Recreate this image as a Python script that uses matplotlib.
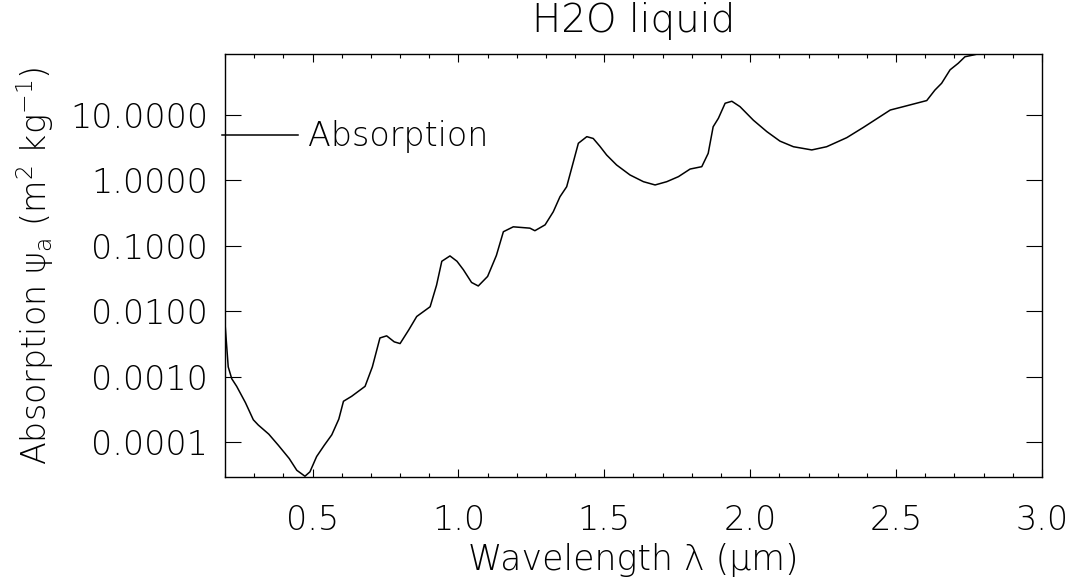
import numpy as np
import matplotlib
matplotlib.use("Agg")
import matplotlib.pyplot as plt
from matplotlib.ticker import FixedLocator, MultipleLocator, NullLocator, FormatStrFormatter

# wavelength (um) and absorption (m^2 kg^-1)
wavelength = [0.200, 0.211, 0.223, 0.240, 0.270, 0.297, 0.314, 0.350, 0.383, 0.420,
              0.446, 0.474, 0.491, 0.514, 0.540, 0.566, 0.590, 0.606, 0.634, 0.680,
              0.705, 0.731, 0.754, 0.780, 0.800, 0.830, 0.857, 0.903, 0.925, 0.943,
              0.971, 0.995, 1.017, 1.045, 1.068, 1.100, 1.130, 1.154, 1.188, 1.245,
              1.262, 1.297, 1.325, 1.348, 1.371, 1.395, 1.411, 1.440, 1.462, 1.485,
              1.508, 1.542, 1.588, 1.634, 1.674, 1.714, 1.754, 1.794, 1.834, 1.856,
              1.873, 1.891, 1.914, 1.937, 1.965, 2.011, 2.057, 2.102, 2.148, 2.211,
              2.262, 2.331, 2.388, 2.480, 2.525, 2.605, 2.633, 2.656, 2.685, 2.713,
              2.736, 2.765, 2.800, 2.900, 3.000]
absorption = [6.5e-3, 1.41e-3, 9.3e-4, 7.1e-4, 4.0e-4, 2.19e-4, 1.82e-4, 1.32e-4, 8.9e-5, 5.6e-5,
              3.7e-5, 3.0e-5, 3.5e-5, 6.0e-5, 8.9e-5, 1.29e-4, 2.24e-4, 4.2e-4, 5.0e-4, 7.1e-4,
              1.41e-3, 3.9e-3, 4.2e-3, 3.4e-3, 3.2e-3, 5.2e-3, 8.3e-3, 1.17e-2, 2.5e-2, 5.8e-2,
              7.0e-2, 5.8e-2, 4.3e-2, 2.75e-2, 2.43e-2, 3.4e-2, 7.1e-2, 0.164, 0.195, 0.186,
              0.170, 0.209, 0.331, 0.562, 0.80, 2.0, 3.69, 4.66, 4.37, 3.31,
              2.44, 1.72, 1.21, 0.955, 0.851, 0.955, 1.14, 1.49, 1.62, 2.59,
              6.6, 8.9, 15.1, 16.2, 13.4, 8.3, 5.56, 3.98, 3.27, 2.92,
              3.27, 4.50, 6.46, 11.9, 13.4, 16.6, 24.0, 30.5, 49.0, 61.7,
              77.6, 82.6, 90.0, 110.0, 120.0]

y_ticks = [1e-4, 1e-3, 1e-2, 1e-1, 1.0, 10.0]
x_ticks = [0.5, 1.0, 1.5, 2.0, 2.5, 3.0]

plt.rcParams["font.family"] = ["DejaVu Sans"]
plt.rcParams["font.weight"] = "light"
plt.rcParams["axes.titleweight"] = "light"
plt.rcParams["axes.labelweight"] = "light"
plt.rcParams["mathtext.default"] = "regular"

fs = 24
tc = "black"
fig = plt.figure(figsize=(10.73, 5.86), dpi=100)
ax = fig.add_axes([0.2097, 0.1865, 0.7614, 0.7205])

ax.plot(wavelength, absorption, color="black", lw=1.1, label="Absorption")
ax.set_yscale("log")
ax.set_xlim(0.2, 3.0)
ax.set_ylim(2.95e-5, 84)

ax.xaxis.set_major_locator(FixedLocator(x_ticks))
ax.xaxis.set_minor_locator(MultipleLocator(0.1))
ax.xaxis.set_major_formatter(FormatStrFormatter("%.1f"))
ax.yaxis.set_major_locator(FixedLocator(y_ticks))
ax.yaxis.set_minor_locator(NullLocator())
ax.yaxis.set_major_formatter(FormatStrFormatter("%.4f"))

ax.tick_params(axis="both", which="both", direction="in", top=True, right=True,
               labelsize=fs, colors=tc, width=0.8)
ax.tick_params(axis="x", which="major", length=5.5, pad=20)
ax.tick_params(axis="x", which="minor", length=3)
ax.tick_params(axis="y", which="major", length=11.5, pad=12)
for s in ax.spines.values():
    s.set_linewidth(1.0)

ax.set_title("H2O liquid", fontsize=28, pad=16, color=tc)
ax.set_xlabel("Wavelength λ (μm)", fontsize=25, labelpad=4, color=tc)
ax.set_ylabel(r"Absorption ψ$_a$ (m$^2$ kg$^{-1}$)", fontsize=fs, labelpad=10, color=tc)

leg = ax.legend(loc="center left", bbox_to_anchor=(-0.004, 0.805), frameon=False,
                fontsize=fs, handlelength=2.3, handletextpad=0.3, borderpad=0,
                borderaxespad=0)
for t in leg.get_texts():
    t.set_color(tc)

fig.savefig("out.png", dpi=100)
